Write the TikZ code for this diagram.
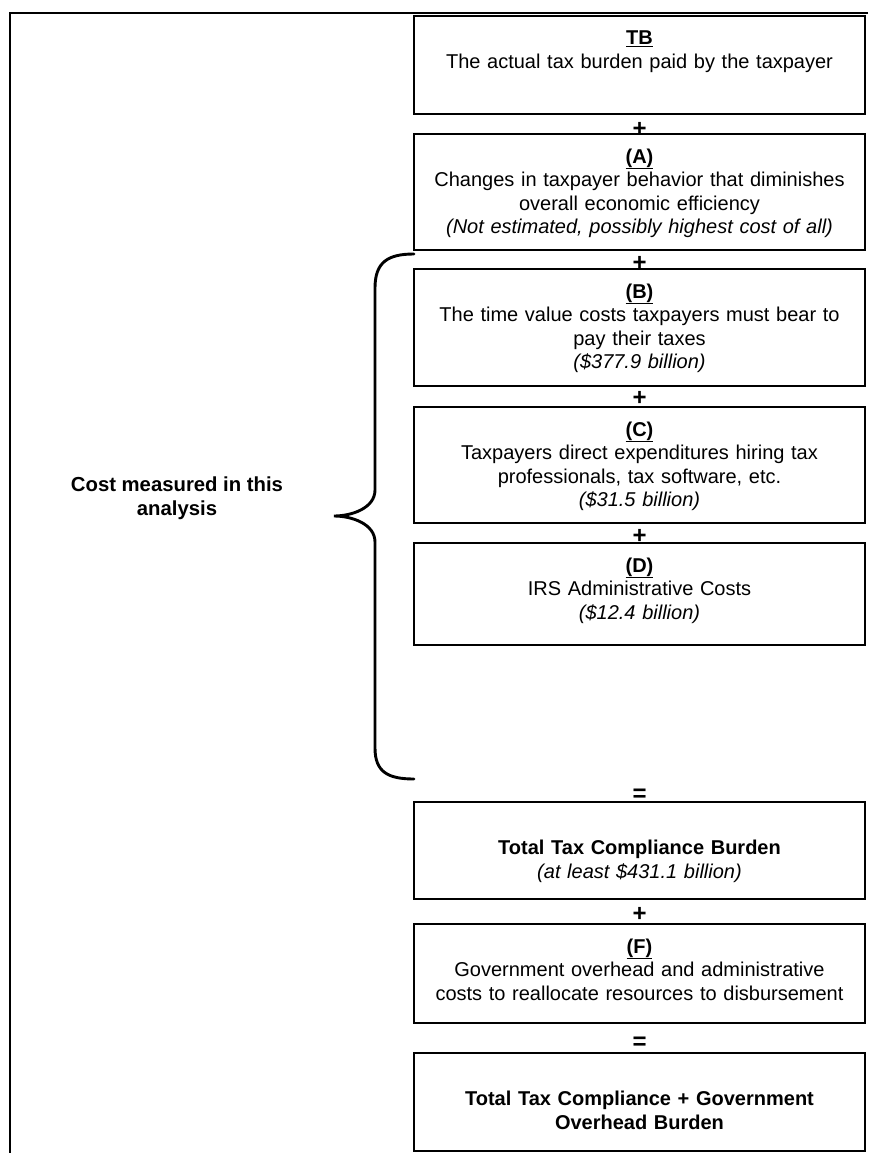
\documentclass[tikz,border=0pt]{standalone}
\usepackage{fontspec}
\setmainfont{Liberation Sans}
\usetikzlibrary{positioning}
\tikzset{
	costbox/.style={
		draw, rectangle, line width=1.3pt, outer sep=0pt,
		text width=439pt, align=center,
		inner xsep=6pt, inner ysep=12pt,
		text height=17pt, text depth=#1,
		font=\fontsize{20}{23.6}\selectfont
	},
	op/.style={inner sep=0pt, font=\fontsize{24}{24}\selectfont\bfseries},
	frame/.style={line width=1.8pt},
	brace/.style={line width=2.9pt, line cap=round}
}
\newcommand{\boxtitle}[1]{\underline{\textbf{#1}}}

\begin{document}
\begin{tikzpicture}[x=1pt,y=-1pt]
	\useasboundingbox (0,0) rectangle (868,1153);
	\draw[frame] (868,13) -- (10,13) -- (10,1153);

	\node[costbox=57pt, anchor=north] (tb) at (639.5,16) {\boxtitle{TB}\\The actual tax burden paid by the taxpayer};
	\node[costbox=75pt, below=20pt of tb] (a) {\boxtitle{(A)}\\Changes in taxpayer behavior that diminishes\\overall economic efficiency\\\textit{(Not estimated, possibly highest cost of all)}};
	\node[costbox=76pt, below=19pt of a] (b) {\boxtitle{(B)}\\The time value costs taxpayers must bear to\\pay their taxes\\\textit{(\$377.9 billion)}};
	\node[costbox=75pt, below=21pt of b] (c) {\boxtitle{(C)}\\Taxpayers direct expenditures hiring tax\\professionals, tax software, etc.\\\textit{(\$31.5 billion)}};
	\node[costbox=61pt, below=20pt of c] (d) {\boxtitle{(D)}\\IRS Administrative Costs\\\textit{(\$12.4 billion)}};
	\node[costbox=56pt, below=157pt of d] (total) {\mbox{}\\\textbf{Total Tax Compliance Burden}\\\textit{(at least \$431.1 billion)}};
	\node[costbox=58pt, below=25pt of total] (f) {\boxtitle{(F)}\\Government overhead and administrative\\costs to reallocate resources to disbursement};
	\node[costbox=57pt, below=30pt of f] (grand) {\mbox{}\\\textbf{Total Tax Compliance + Government}\\\textbf{Overhead Burden}};

	\node[op, above=-2.5pt of a] (plus1) {+};
	\node[op, above=-1.5pt of b] (plus2) {+};
	\node[op, above=1.5pt of c] (plus3) {+};
	\node[op, above=-0.5pt of d] (plus4) {+};
	\node[op, above=0pt of total] (eq1) {=};
	\node[op, above=2.5pt of f] (plus5) {+};
	\node[op, above=3pt of grand] (eq2) {=};

	% brace over B, C and D
	\draw[brace] (414,254) .. controls (388,254) and (375,262) .. (375,288)
		-- (375,490) .. controls (375,508) and (352,516) .. (334,516)
		.. controls (352,516) and (375,524) .. (375,542)
		-- (375,748) .. controls (375,772) and (388,779) .. (414,779);
	\node[align=center, font=\fontsize{20.3}{23.6}\selectfont\bfseries] (costlbl) at (177,498) {Cost measured in this\\analysis};
\end{tikzpicture}
\end{document}
